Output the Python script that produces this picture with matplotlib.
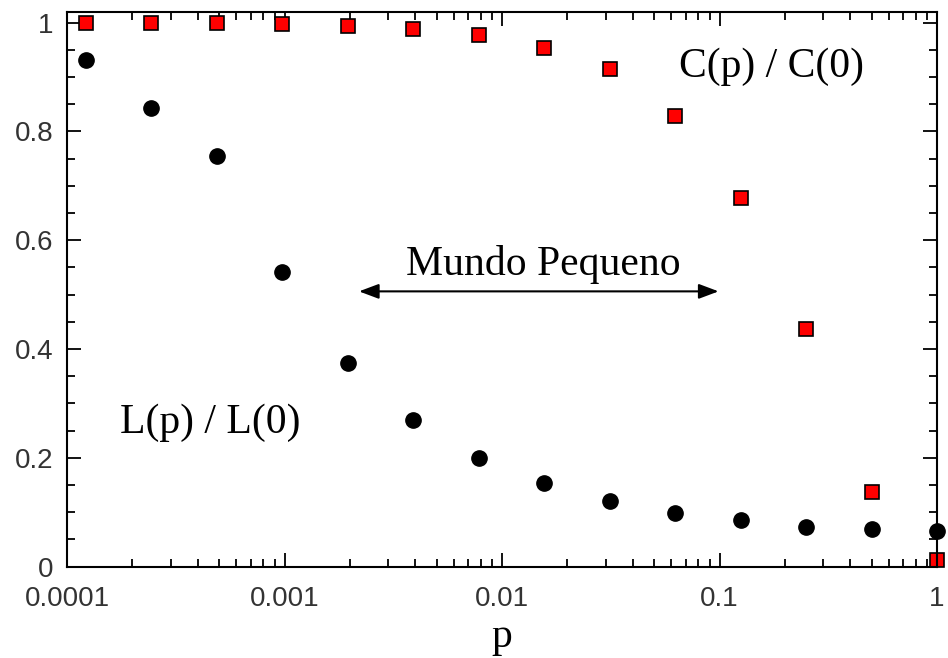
import matplotlib
matplotlib.use('Agg')
import matplotlib.pyplot as plt
import matplotlib.ticker as mticker
import numpy as np

# rewiring probability p (powers of two, 2^-13 ... 1)
p = [0.000122, 0.000244, 0.000488, 0.000977, 0.00195, 0.0039, 0.0078,
     0.0156, 0.03125, 0.0625, 0.125, 0.25, 0.5, 1.0]

# normalised path length L(p)/L(0)
L_ratio = [0.931, 0.843, 0.755, 0.542, 0.375, 0.270, 0.199,
           0.153, 0.121, 0.099, 0.086, 0.0735, 0.069, 0.066]

# normalised clustering C(p)/C(0)
C_ratio = [0.999, 0.999, 0.999, 0.998, 0.9945, 0.988, 0.978,
           0.954, 0.914, 0.829, 0.677, 0.437, 0.138, 0.012]

serif = ['Liberation Serif', 'DejaVu Serif']
sans = ['Liberation Sans', 'DejaVu Sans']

fig = plt.figure(figsize=(9.48, 6.58), dpi=100)
ax = fig.add_axes([0.0707, 0.1388, 0.9177, 0.8434])

ax.plot(p, L_ratio, linestyle='none', marker='o', markersize=11,
        color='black', clip_on=False, zorder=2)
ax.plot(p, C_ratio, linestyle='none', marker='s', markersize=10,
        markerfacecolor='#ff0000', markeredgecolor='black',
        markeredgewidth=1.2, clip_on=False, zorder=2)

ax.set_xscale('log')
ax.set_xlim(1e-4, 1)
ax.set_ylim(0, 1.02)

ax.xaxis.set_minor_locator(mticker.LogLocator(base=10, subs=np.arange(2, 10), numticks=20))
ax.xaxis.set_minor_formatter(mticker.NullFormatter())
ax.set_xticks([1e-4, 1e-3, 1e-2, 1e-1, 1])
ax.set_xticklabels(['0.0001', '0.001', '0.01', '0.1', '1'])

ax.set_yticks([0, 0.2, 0.4, 0.6, 0.8, 1])
ax.set_yticklabels(['0', '0.2', '0.4', '0.6', '0.8', '1'])
ax.yaxis.set_minor_locator(mticker.MultipleLocator(0.05))

ax.tick_params(which='both', direction='in', top=True, right=True,
               width=1.3, color='black')
ax.tick_params(which='major', length=10, labelsize=20, labelcolor='#333333')
ax.tick_params(axis='x', which='major', pad=14)
ax.tick_params(axis='y', which='major', pad=10)
ax.tick_params(which='minor', length=6)
for lab in ax.get_xticklabels() + ax.get_yticklabels():
    lab.set_family(sans)

for s in ax.spines.values():
    s.set_linewidth(1.5)

ax.set_xlabel('p', fontsize=30, family=serif, labelpad=4)

ax.text(0.1726, 0.918, 'C(p) / C(0)', fontsize=30, family=serif,
        ha='center', va='center')
ax.text(0.000454, 0.264, 'L(p) / L(0)', fontsize=30, family=serif,
        ha='center', va='center')
ax.text(0.01545, 0.555, 'Mundo Pequeno', fontsize=30, family=serif,
        ha='center', va='center')

ax.annotate('', xy=(0.0022, 0.506), xytext=(0.099, 0.506),
            arrowprops=dict(arrowstyle='<|-|>,head_length=1.2,head_width=0.45',
                            color='black', lw=1.5, shrinkA=0, shrinkB=0))

fig.savefig('out.png', dpi=100)
